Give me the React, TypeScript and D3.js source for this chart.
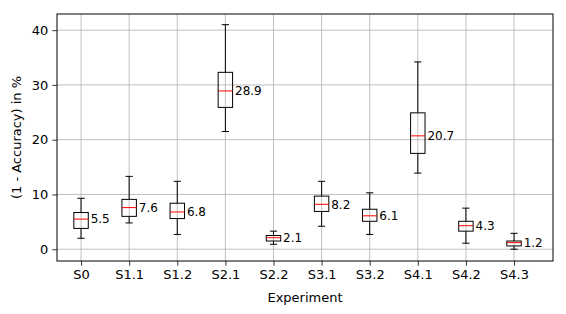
import React, { useEffect, useRef } from "react";
import * as d3 from "d3";

const experiments = ["S0", "S1.1", "S1.2", "S2.1", "S2.2", "S3.1", "S3.2", "S4.1", "S4.2", "S4.3"];
const medians = [5.5, 7.6, 6.8, 28.9, 2.1, 8.2, 6.1, 20.7, 4.3, 1.2];
const q1 = [3.8, 6.0, 5.6, 25.9, 1.5, 6.9, 5.1, 17.5, 3.3, 0.6];
const q3 = [6.7, 9.1, 8.4, 32.3, 2.5, 9.7, 7.3, 24.9, 5.1, 1.5];
const whiskerLow = [2.0, 4.8, 2.7, 21.5, 0.9, 4.2, 2.7, 13.9, 1.1, 0.0];
const whiskerHigh = [9.3, 13.3, 12.4, 41.0, 3.3, 12.4, 10.3, 34.2, 7.5, 2.9];
const yTicks = [0, 10, 20, 30, 40];

const W = 566;
const H = 314;
const margin = { top: 14, right: 13, bottom: 53, left: 57 };

export default function App() {
  const svgRef = useRef<SVGSVGElement>(null);

  useEffect(() => {
    const svg = d3.select(svgRef.current);
    svg.selectAll("*").remove();

    const x = d3.scaleLinear().domain([0.5, 10.81]).range([margin.left, W - margin.right]);
    const y = d3.scaleLinear().domain([-2.15, 42.95]).range([H - margin.bottom, margin.top]);

    const font = "DejaVu Sans, sans-serif";
    const positions = experiments.map((_, i) => i + 1);

    // grid
    const grid = svg.append("g").attr("stroke", "#b0b0b0").attr("stroke-width", 0.8);
    grid
      .selectAll("line.gx")
      .data(positions)
      .join("line")
      .attr("x1", (d) => x(d))
      .attr("x2", (d) => x(d))
      .attr("y1", margin.top)
      .attr("y2", H - margin.bottom);
    grid
      .selectAll("line.gy")
      .data(yTicks)
      .join("line")
      .attr("x1", margin.left)
      .attr("x2", W - margin.right)
      .attr("y1", (d) => y(d))
      .attr("y2", (d) => y(d));

    // axes
    const xAxis = d3
      .axisBottom(x)
      .tickValues(positions)
      .tickFormat((d, i) => experiments[i])
      .tickSize(4.7)
      .tickPadding(4);
    const gx = svg
      .append("g")
      .attr("transform", `translate(0,${H - margin.bottom})`)
      .call(xAxis);
    gx.select(".domain").remove();
    gx.selectAll("text").attr("font-family", font).attr("font-size", 13).attr("fill", "#000");
    gx.selectAll("line").attr("stroke", "#000").attr("stroke-width", 0.8);

    const yAxis = d3.axisLeft(y).tickValues(yTicks).tickSize(4.7).tickPadding(4);
    const gy = svg.append("g").attr("transform", `translate(${margin.left},0)`).call(yAxis);
    gy.select(".domain").remove();
    gy.selectAll("text").attr("font-family", font).attr("font-size", 13).attr("fill", "#000");
    gy.selectAll("line").attr("stroke", "#000").attr("stroke-width", 0.8);

    // boxes
    const bw = 0.3;
    const cap = 0.15;
    const g = svg
      .append("g")
      .selectAll("g.box")
      .data(experiments)
      .join("g")
      .attr("fill", "none")
      .attr("stroke", "#000")
      .attr("stroke-width", 1);

    g.append("line")
      .attr("x1", (_, i) => x(i + 1))
      .attr("x2", (_, i) => x(i + 1))
      .attr("y1", (_, i) => y(q3[i]))
      .attr("y2", (_, i) => y(whiskerHigh[i]));
    g.append("line")
      .attr("x1", (_, i) => x(i + 1))
      .attr("x2", (_, i) => x(i + 1))
      .attr("y1", (_, i) => y(q1[i]))
      .attr("y2", (_, i) => y(whiskerLow[i]));
    g.append("line")
      .attr("x1", (_, i) => x(i + 1 - cap / 2))
      .attr("x2", (_, i) => x(i + 1 + cap / 2))
      .attr("y1", (_, i) => y(whiskerHigh[i]))
      .attr("y2", (_, i) => y(whiskerHigh[i]));
    g.append("line")
      .attr("x1", (_, i) => x(i + 1 - cap / 2))
      .attr("x2", (_, i) => x(i + 1 + cap / 2))
      .attr("y1", (_, i) => y(whiskerLow[i]))
      .attr("y2", (_, i) => y(whiskerLow[i]));
    g.append("rect")
      .attr("x", (_, i) => x(i + 1 - bw / 2))
      .attr("width", x(1 + bw) - x(1))
      .attr("y", (_, i) => y(q3[i]))
      .attr("height", (_, i) => y(q1[i]) - y(q3[i]));
    g.append("line")
      .attr("stroke", "red")
      .attr("x1", (_, i) => x(i + 1 - bw / 2))
      .attr("x2", (_, i) => x(i + 1 + bw / 2))
      .attr("y1", (_, i) => y(medians[i]))
      .attr("y2", (_, i) => y(medians[i]));

    // median labels
    svg
      .append("g")
      .selectAll("text")
      .data(medians)
      .join("text")
      .attr("x", (_, i) => x(i + 1 + 0.2))
      .attr("y", (d) => y(d))
      .attr("dy", "0.35em")
      .attr("font-family", font)
      .attr("font-size", 12)
      .attr("fill", "#000")
      .text((d) => d.toFixed(1));

    // frame
    svg
      .append("rect")
      .attr("x", margin.left)
      .attr("y", margin.top)
      .attr("width", W - margin.left - margin.right)
      .attr("height", H - margin.top - margin.bottom)
      .attr("fill", "none")
      .attr("stroke", "#000")
      .attr("stroke-width", 1);

    // axis labels
    svg
      .append("text")
      .attr("x", (margin.left + W - margin.right) / 2)
      .attr("y", 302)
      .attr("text-anchor", "middle")
      .attr("font-family", font)
      .attr("font-size", 13)
      .text("Experiment");
    svg
      .append("text")
      .attr("transform", `translate(21,${(margin.top + H - margin.bottom) / 2}) rotate(-90)`)
      .attr("text-anchor", "middle")
      .attr("font-family", font)
      .attr("font-size", 13)
      .text("(1 - Accuracy) in %");
  }, []);

  return (
    <svg
      ref={svgRef}
      width={W}
      height={H}
      style={{ position: "absolute", left: 0, top: 0, background: "#fff" }}
    />
  );
}
